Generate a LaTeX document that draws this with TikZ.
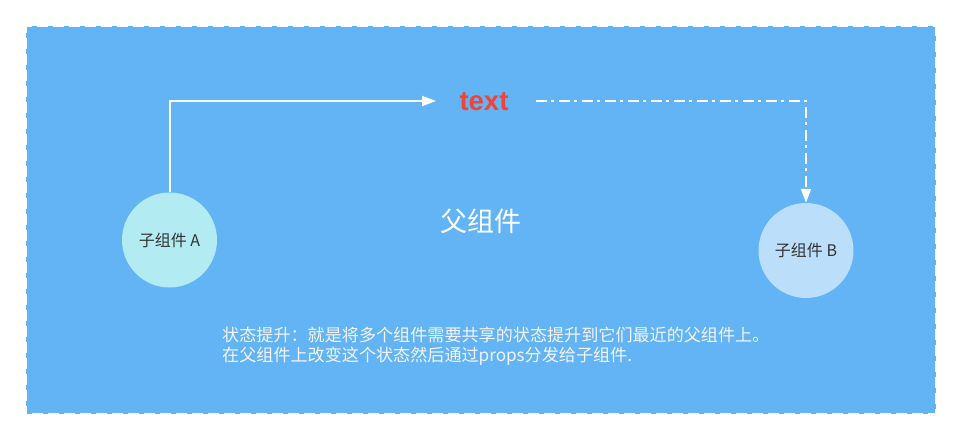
\documentclass[tikz,border=0pt]{standalone}
\usepackage{fontspec}
\setmainfont{Liberation Sans}
\newfontfamily\cjk{Noto Sans CJK SC}
\usetikzlibrary{arrows.meta}
\definecolor{bgblue}{HTML}{63B4F5}
\definecolor{circA}{HTML}{B3EBF2}
\definecolor{circB}{HTML}{BBDEFB}
\definecolor{redtxt}{HTML}{F44336}
\definecolor{darktxt}{HTML}{333333}
\definecolor{notetxt}{HTML}{F4F4F4}
\tikzset{
  child/.style={circle, minimum size=95pt, inner sep=0pt, draw=none, text=darktxt, font=\cjk\fontsize{16}{18}\selectfont},
  conn/.style={draw=white, line width=2pt, -{Triangle[length=14pt,width=10pt]}},
}
\begin{document}
\begin{tikzpicture}[x=1pt,y=-1pt]
\useasboundingbox (0,0) rectangle (962,441);
\fill[white] (0,0) rectangle (962,441);
\node[fill=bgblue, draw=bgblue, dash pattern=on 5pt off 11pt, line width=2.2pt, minimum width=908pt, minimum height=386pt, inner sep=0pt] (parent) at (481,220) {};
\node[text=white, font=\cjk\fontsize{27}{30}\selectfont] (ptitle) at (481,221) {父组件};
\node[child, fill=circA] (a) at (169.5,240) {子组件 A};
\node[child, fill=circB] (b) at (806,250.5) {子组件 B};
\node[text=redtxt, font=\bfseries\fontsize{27.5}{30}\selectfont] (t) at (484,102) {text};
\coordinate (c1) at (169.5,101);
\coordinate (c2) at (806,101);
\draw[conn] (a.north) -- (c1) -- ([xshift=-20pt]t.west |- c1);
\draw[conn, dash pattern=on 11pt off 4.5pt on 3pt off 4.5pt] ([xshift=24pt]t.east |- c2) -- (c2) -- (b.north);
\node[anchor=north west, text=notetxt, align=left, inner sep=0pt, font=\cjk\fontsize{17.1}{20}\selectfont] (note) at (222,327) {状态提升：就是将多个组件需要共享的状态提升到它们最近的父组件上。\\在父组件上改变这个状态然后通过props分发给子组件.};
\end{tikzpicture}
\end{document}
